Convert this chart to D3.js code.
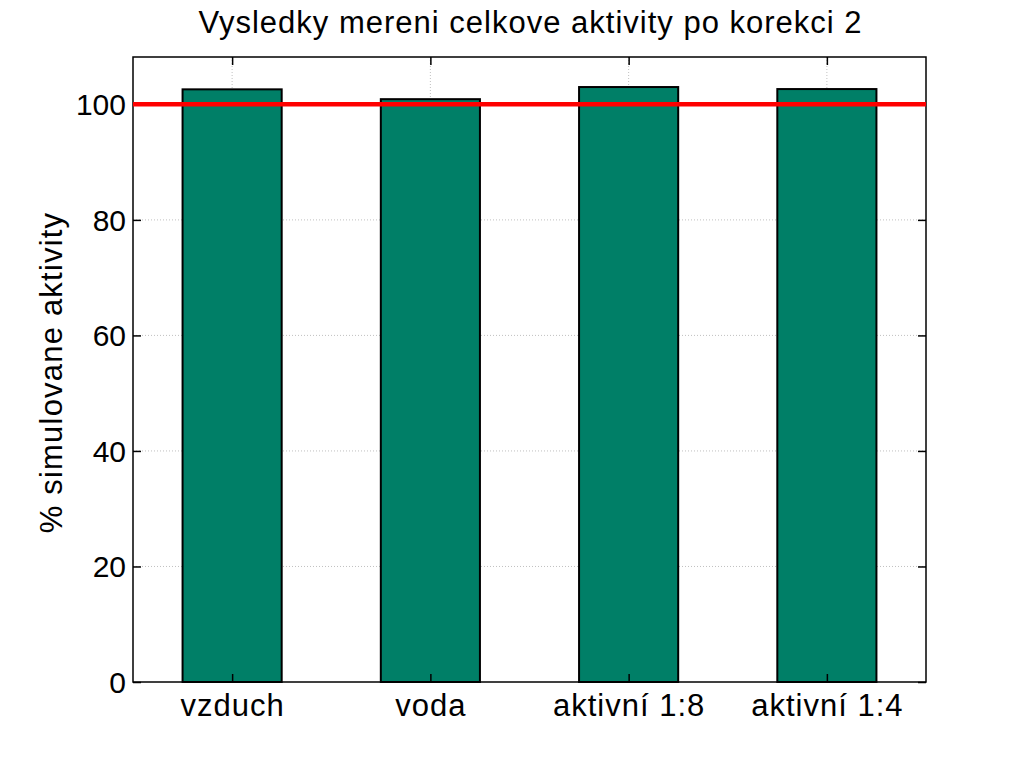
<!DOCTYPE html>
<html><head><meta charset="utf-8">
<script src="https://cdn.jsdelivr.net/npm/d3@7"></script>
<style>body{margin:0;background:#fff}svg{display:block}text{font-family:"Liberation Sans",Arial,sans-serif;fill:#000}</style>
</head><body><svg id="c" width="1023" height="767"></svg>
<script>
const categories = ["vzduch", "voda", "aktivní 1:8", "aktivní 1:4"];
const values = [102.6, 100.9, 103.0, 102.65];
const yTicks = [0, 20, 40, 60, 80, 100];
const refValue = 100;
const title = "Vysledky mereni celkove aktivity po korekci 2";
const yLabel = "% simulovane aktivity";

const svg = d3.select("#c");
const L = 133, R = 926, T = 57, B = 682;
const x = d3.scaleLinear().domain([0.5, 4.5]).range([L, R]);
const y = d3.scaleLinear().domain([0, 108.2]).range([B, T]);

// grid
const g = svg.append("g");
g.selectAll(".gy").data(yTicks.slice(1)).enter().append("line")
  .attr("x1", L).attr("x2", R).attr("y1", d => y(d)).attr("y2", d => y(d))
  .attr("stroke", "#b0b0b0").attr("stroke-width", 0.8).attr("stroke-dasharray", "1,2");
g.selectAll(".gx").data(categories).enter().append("line")
  .attr("x1", (d, i) => x(i + 1)).attr("x2", (d, i) => x(i + 1)).attr("y1", T).attr("y2", B)
  .attr("stroke", "#b0b0b0").attr("stroke-width", 0.8).attr("stroke-dasharray", "1,2");

// bars
const bw = x(1.25) - x(0.75);
svg.selectAll(".bar").data(values).enter().append("rect")
  .attr("x", (d, i) => x(i + 1) - bw / 2).attr("width", bw)
  .attr("y", d => y(d)).attr("height", d => B - y(d))
  .attr("fill", "#007f67").attr("stroke", "#000").attr("stroke-width", 2);

// frame
svg.append("rect").attr("x", L).attr("y", T).attr("width", R - L).attr("height", B - T)
  .attr("fill", "none").attr("stroke", "#000").attr("stroke-width", 1.5);

// ticks inward
const yAxL = d3.axisLeft(y).tickValues(yTicks).tickSizeInner(-8).tickSizeOuter(0).tickPadding(7);
const gl = svg.append("g").attr("transform", `translate(${L},0)`).call(yAxL);
gl.select(".domain").remove();
gl.selectAll("text").style("font-size", "30px").attr("dy", "0.35em");
gl.selectAll("line").attr("stroke-width", 1.5);

const yAxR = d3.axisRight(y).tickValues(yTicks).tickSizeInner(-8).tickSizeOuter(0).tickFormat("");
const gr = svg.append("g").attr("transform", `translate(${R},0)`).call(yAxR);
gr.select(".domain").remove();
gr.selectAll("line").attr("stroke-width", 1.5);

const xAxB = d3.axisBottom(x).tickValues([1, 2, 3, 4]).tickFormat((d) => categories[d - 1]).tickSizeInner(-8).tickSizeOuter(0).tickPadding(12);
const gb = svg.append("g").attr("transform", `translate(0,${B})`).call(xAxB);
gb.select(".domain").remove();
gb.selectAll("text").style("font-size", "31px").style("letter-spacing", "1px");
gb.selectAll("line").attr("stroke-width", 1.5);

const xAxT = d3.axisTop(x).tickValues([1, 2, 3, 4]).tickFormat("").tickSizeInner(-8).tickSizeOuter(0);
const gt = svg.append("g").attr("transform", `translate(0,${T})`).call(xAxT);
gt.select(".domain").remove();
gt.selectAll("line").attr("stroke-width", 1.5);

// reference line
svg.append("line").attr("x1", L).attr("x2", R).attr("y1", y(refValue)).attr("y2", y(refValue))
  .attr("stroke", "#ff0000").attr("stroke-width", 4.5);

// title
svg.append("text").attr("x", (L + R) / 2 + 1).attr("y", 32.5).attr("text-anchor", "middle")
  .style("font-size", "31px").style("letter-spacing", "1px").text(title);
svg.append("text").attr("transform", `translate(62,${(T + B) / 2 + 3}) rotate(-90)`)
  .attr("text-anchor", "middle").style("font-size", "31px").style("letter-spacing", "1.2px").text(yLabel);
</script></body></html>
